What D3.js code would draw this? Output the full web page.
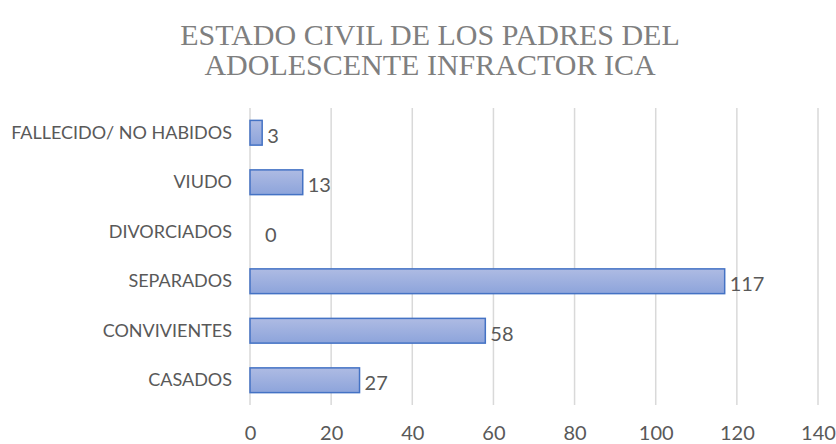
<!DOCTYPE html>
<html>
<head>
<meta charset="utf-8">
<script src="https://cdn.jsdelivr.net/npm/d3@7"></script>
<style>
  body { margin: 0; background: #fff; }
</style>
</head>
<body>
<div id="chart"></div>
<script>
var categories = ["FALLECIDO/ NO HABIDOS", "VIUDO", "DIVORCIADOS", "SEPARADOS", "CONVIVIENTES", "CASADOS"];
var values = [3, 13, 0, 117, 58, 27];
var xTicks = [0, 20, 40, 60, 80, 100, 120, 140];
var titleLines = ["ESTADO CIVIL DE LOS PADRES DEL", "ADOLESCENTE INFRACTOR ICA"];

var svgWidth = 836;
var svgHeight = 444;

var margin = { top: 108, right: 18, bottom: 39, left: 250 };

var svg = d3.select("#chart")
  .append("svg")
  .attr("width", svgWidth)
  .attr("height", svgHeight);

var totalwidth = svgWidth - margin.left - margin.right;
var totalheight = svgHeight - margin.top - margin.bottom;

// gradient for the bars
var grad = svg.append("defs").append("linearGradient")
  .attr("id", "barFill")
  .attr("x1", 0).attr("y1", 0).attr("x2", 0).attr("y2", 1);
grad.append("stop").attr("offset", "0%").attr("stop-color", "#aebbe3");
grad.append("stop").attr("offset", "100%").attr("stop-color", "#8da4db");

// title
svg.append("g").selectAll("text")
  .data(titleLines)
  .enter().append("text")
  .attr("x", 430)
  .attr("y", (d, i) => 45 + i * 30)
  .attr("text-anchor", "middle")
  .attr("font-family", "'Liberation Serif', 'Times New Roman', serif")
  .attr("font-size", "30px")
  .attr("fill", "#7f7f7f")
  .text(d => d);

var chart = svg.append("g")
  .attr("transform", `translate(${margin.left}, ${margin.top})`);

var xScale = d3.scaleLinear()
  .domain([0, 140])
  .range([0, totalwidth]);

var yScale = d3.scaleBand()
  .domain(categories)
  .range([0, totalheight])
  .paddingInner(0.5)
  .paddingOuter(0.25);

// gridlines
chart.append("g")
  .selectAll("line")
  .data(xTicks)
  .enter().append("line")
  .attr("x1", d => xScale(d))
  .attr("x2", d => xScale(d))
  .attr("y1", 0)
  .attr("y2", totalheight)
  .attr("stroke", "#d9d9d9")
  .attr("stroke-width", 1.5);

// x axis labels
var xAxis = d3.axisBottom(xScale).tickValues(xTicks).tickSize(0).tickPadding(0);
var xg = chart.append("g")
  .attr("transform", `translate(0, ${totalheight})`)
  .call(xAxis);
xg.select(".domain").remove();
xg.selectAll("text")
  .attr("y", 35)
  .attr("dy", null)
  .attr("font-family", "Lato, 'Open Sans', sans-serif")
  .attr("font-size", "20px")
  .attr("fill", "#595959");

// y axis labels
var yAxis = d3.axisLeft(yScale).tickSize(0).tickPadding(18);
var yg = chart.append("g").call(yAxis);
yg.select(".domain").remove();
yg.selectAll("text")
  .attr("font-family", "Lato, 'Open Sans', sans-serif")
  .attr("font-size", "18px")
  .attr("fill", "#595959");

// bars
var rows = categories.map((c, i) => ({ cat: c, value: values[i] }));

chart.selectAll(".bar")
  .data(rows.filter(d => d.value > 0))
  .enter().append("rect")
  .attr("class", "bar")
  .attr("x", xScale(0))
  .attr("y", d => yScale(d.cat))
  .attr("width", d => xScale(d.value) - xScale(0))
  .attr("height", yScale.bandwidth())
  .attr("fill", "url(#barFill)")
  .attr("stroke", "#4472c4")
  .attr("stroke-width", 1.5);

// value labels
chart.selectAll(".val")
  .data(rows)
  .enter().append("text")
  .attr("class", "val")
  .attr("x", d => xScale(d.value) + (d.value === 0 ? 15 : 5))
  .attr("y", d => yScale(d.cat) + yScale.bandwidth() / 2 + 2)
  .attr("dominant-baseline", "central")
  .attr("font-family", "Lato, 'Open Sans', sans-serif")
  .attr("font-size", "20px")
  .attr("fill", "#595959")
  .text(d => d.value);
</script>
</body>
</html>
